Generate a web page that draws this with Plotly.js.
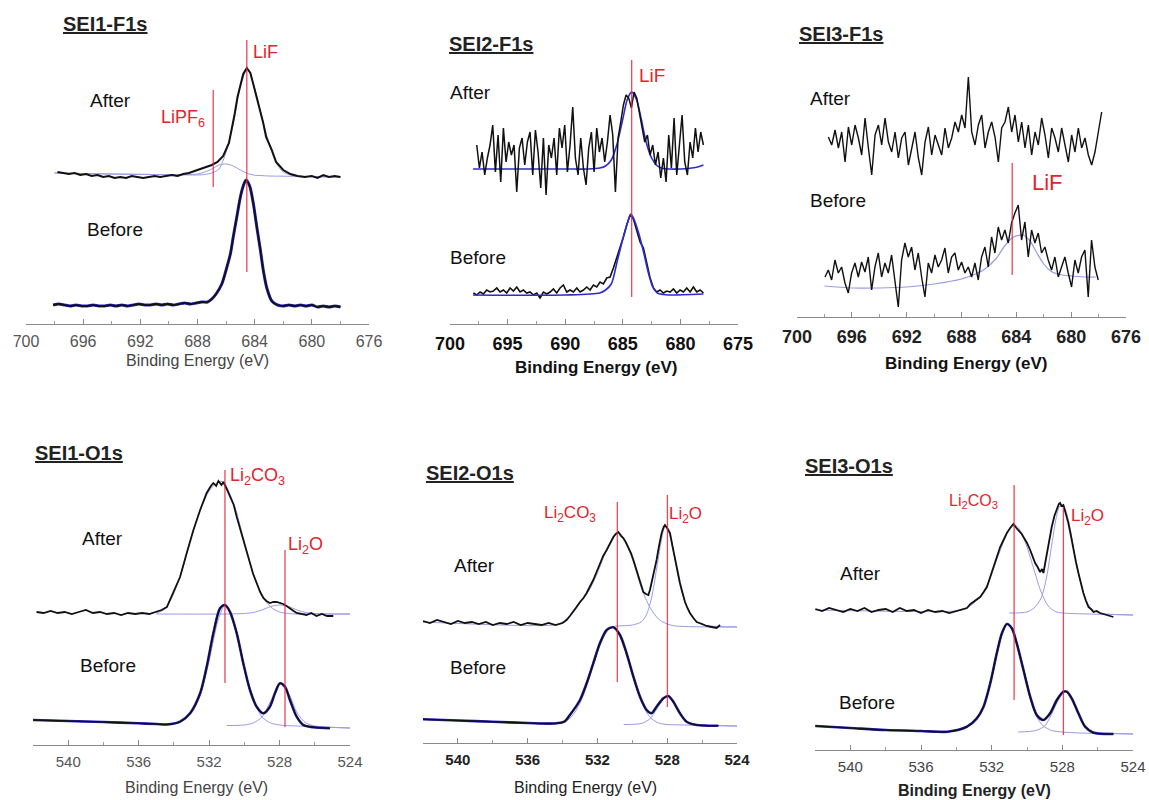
<!DOCTYPE html>
<html><head><meta charset="utf-8">
<script src="https://cdn.plot.ly/plotly-3.0.1.min.js"></script>
<style>html,body{margin:0;padding:0;background:#fff}</style>
</head><body><div id="chart" style="width:1149px;height:800px"></div>
<script>
// ===== DATA (binding energy in eV, intensity in arbitrary units with vertical offsets) =====
// Panel 1: SEI1-F1s
const p1AfterE = [697.8,697.4,697.0,696.6,696.2,695.8,695.4,695.0,694.6,694.2,693.8,693.4,693.0,692.6,692.2,691.8,691.4,691.0,690.6,690.2,689.8,689.4,689.0,688.6,688.2,687.8,687.4,687.0,686.6,686.2,685.8,685.6,685.4,685.2,685.0,684.8,684.55,684.3,684.1,683.85,683.6,683.4,683.2,682.8,682.5,682.0,681.5,681.0,680.5,680.0,679.6,679.2,678.8,678.4,678.0];
const p1AfterI = [152,151,150,151,149,150,148,149,147,148,146,147,146,148,147,146,147,148,147,148,149,148,150,151,153,155,157,159,162,168,181,194,210,227,240,250,256,251,240,227,214,201,187,174,162,154,150,148,147,148,146,149,147,148,147];
const p1BeforeE = [698.1,697.7,697.3,696.9,696.5,696.1,695.7,695.3,694.9,694.5,694.1,693.7,693.3,692.9,692.5,692.1,691.7,691.3,690.9,690.5,690.1,689.7,689.3,688.9,688.5,688.1,687.7,687.3,687.0,686.7,686.3,686.0,685.7,685.5,685.25,685.0,684.8,684.6,684.35,684.1,683.85,683.6,683.4,683.15,682.8,682.4,682.0,681.6,681.2,680.8,680.4,680.0,679.6,679.2,678.8,678.4,678.0];
const p1BeforeI = [19,20,19,18,19,18,18,19,18,18,19,18,19,18,19,20,19,19,20,19,20,19,20,21,20,21,22,22,25,30,40,54,70,87,107,127,138,144,138,121,97,74,54,36,23,19,18,19,18,19,18,19,17,18,17,18,17];
const p1CompE = [698,694,690,688,687.5,687,686.5,686,685.5,685,684.5,684,683.5,683,682.5,682,681.5,681,680,678];
const p1CompLiF = [151,150,149.4,149,149.5,151,155,172,200,238,255,236,207,181,161,152,149,148,147.4,147];
const p1CompLiPF6 = [151,150,149.4,150,152,155,159,160,158,154,150.5,148.8,148.4,148,147.9,147.8,147.7,147.6,147.4,147];

// Panel 2: SEI2-F1s (evenly sampled noisy spectra)
const p2AfterStart = 697.68, p2AfterStep = -0.2315;
const p2AfterI = [179,156,172,149,166,179,199,152,189,142,196,162,182,169,179,132,176,186,159,182,192,149,194,172,136,186,129,179,166,186,149,196,176,199,152,179,217,166,149,186,156,139,176,192,152,196,172,186,162,182,209,189,132,186,202,219,229,226,216,232,226,212,199,182,189,169,179,159,172,146,166,142,189,156,206,149,179,209,162,149,182,166,196,172,192,179];
const p2BeforeStart = 697.97, p2BeforeStep = -0.2894;
const p2BeforeI = [31,29,32,30,34,32,33,36,32,34,31,36,33,37,32,34,31,32,29,31,26,32,30,32,35,31,36,39,32,34,32,36,32,34,37,34,39,37,42,40,46,47,56,66,76,87,99,109,105,94,82,76,62,46,36,32,34,31,33,32,35,31,34,32,36,32,37,32,34,31];
const p2FitAE = [698,690,688,687,686.5,686,685.5,685,684.6,684.23,683.8,683.4,683,682.5,682,681.5,681,680,679,678.5,678];
const p2FitAI = [155,155,155,156,158,164,180,205,225,232,224,205,183,166,158,155.5,155,155,156,157,159];
const p2FitBE = [698,690,687,686.5,686,685.5,685,684.6,684.3,684,683.6,683.2,682.8,682.4,682,681.5,681,678];
const p2FitBI = [29,29,31,34,40,62,85,101,110,104,90,72,52,37,31,29.5,29,30];

// Panel 3: SEI3-F1s
const p3AfterStart = 697.71, p3AfterStep = -0.2431;
const p3AfterI = [180,172,187,169,185,155,190,172,192,179,162,199,169,142,182,192,172,199,175,165,185,159,179,185,152,169,185,159,142,175,190,162,182,172,162,189,169,179,195,185,202,189,240,185,172,192,202,169,185,195,180,155,189,195,210,185,202,175,195,169,192,162,185,172,199,182,159,189,179,165,189,172,155,182,165,189,169,179,162,152,165,185,205];
const p3BeforeStart = 697.96, p3BeforeStep = -0.2431;
const p3BeforeI = [40,47,37,57,44,50,34,24,44,54,40,55,45,60,27,50,64,40,54,44,62,37,10,57,74,60,70,47,64,40,20,54,44,62,50,57,69,44,60,64,47,55,44,50,40,54,37,60,70,50,80,64,90,77,87,74,94,104,112,77,95,60,87,74,84,64,70,57,47,60,40,50,60,44,30,57,44,60,67,20,77,50,37];
const p3FitE = [698,696,694,692,690,688,687,686.4,685.5,684.8,684.2,683.5,683,682.5,682,681.5,681,680,679,678.2];
const p3FitI = [31,29,29,30,33,38,43,47,58,72,80,82,76,64,53,46,43,41,40,40];

// Panel 4: SEI1-O1s
const p4AfterE = [541.8,541.4,541.0,540.6,540.2,539.8,539.4,539.0,538.6,538.2,537.8,537.4,537.0,536.6,536.2,535.8,535.4,535.0,534.7,534.4,534.03,533.65,533.27,532.89,532.51,532.14,531.9,531.76,531.6,531.47,531.3,531.19,531.0,530.81,530.6,530.43,530.25,530.06,529.87,529.68,529.5,529.3,529.1,528.92,528.75,528.55,528.35,528.17,527.98,527.79,527.6,527.41,527.2,527.03,526.8,526.47,526.2,525.9,525.6,525.3,524.95];
const p4AfterI = [133,132,134,132,133,131,133,135,132,133,131,132,130,132,131,132,131,133,135,138,152,168,192,215,235,252,259,262,259,264,260,263,256,248,240,228,217,205,192,182,171,162,153,147,144,142,143,143,142,141,139,137,134,132,131,130,132,129,131,129,129];
const p4BeforeE = [542,540,538,536,535,534.4,533.65,533.08,532.51,532.14,531.76,531.38,531.1,530.81,530.43,530.06,529.68,529.3,528.92,528.55,528.26,527.98,527.69,527.41,527.03,526.65,526.09,525.14];
const p4BeforeI = [25,24,23,21.7,21,20.5,23.3,31.7,51.7,78,111.7,136.7,140,133,111.7,81.7,55,38.3,31.7,38.3,51.7,61.7,58.3,45,28.3,20,17.7,16.7];
const p4A1E = [535,534.5,534,533.5,533,532.5,532,531.5,531.2,531,530.5,530,529.5,529,528.5,528,527.5,527,524];
const p4A1I = [132,136,152,177,209,235,254,263,263,258,236,203,172,150,138,133,131.5,131,131];
const p4A2E = [535,531,530,529.5,529,528.5,528,527.5,527,526.5,526,524];
const p4A2I = [131,131,131.5,132.5,135,138.5,140,138.5,135,132.5,131.5,131];
const p4B1E = [542,535,534,533.5,533,532.5,532,531.5,531.1,530.5,530,529.5,529,528.5,528,527,524];
const p4B1I = [25,21,21.5,24,32,50,84,124,140,115,77,47,28,22,20,19,17];
const p4B2E = [531,530,529.5,529,528.5,528,527.5,527,526.5,526,524];
const p4B2I = [19.5,20,22,28,44,61,52,32,22,19,17];

// Panel 5: SEI2-O1s
const p5AfterE = [542.0,541.6,541.2,540.8,540.4,540.0,539.6,539.2,538.8,538.4,538.0,537.6,537.2,536.8,536.4,536.0,535.6,535.2,534.8,534.4,534.0,533.77,533.58,533.39,533.2,533.0,532.8,532.62,532.43,532.24,532.05,531.86,531.67,531.47,531.28,531.09,530.95,530.8,530.65,530.52,530.38,530.23,530.08,529.94,529.8,529.66,529.52,529.37,529.22,529.08,528.99,528.9,528.75,528.61,528.47,528.32,528.2,528.13,528.0,527.84,527.7,527.55,527.41,527.27,527.12,526.98,526.84,526.7,526.5,526.31,526.0,525.74,525.45,525.17,524.97];
const p5AfterI = [122,120,123,121,119,122,120,121,119,121,118,120,119,121,118,120,119,118,120,118,120,123,127,131,136,141,145,150,156,163,171,180,187,193,200,206,209,211,207,205,201,196,190,183,175,166,158,151,149,148,153,160,171,183,197,210,216,218,215,210,197,183,170,160,150,141,135,130,125,121,119,117,116,115,118];
const p5BeforeE = [542,540,538,536,534.5,533.9,533.58,533.0,532.62,532.24,531.86,531.47,531.09,530.71,530.33,529.94,529.56,529.18,528.9,528.61,528.22,527.94,527.65,527.27,526.89,526.31,525.07];
const p5BeforeI = [23.7,22.5,21.3,20,19.5,21.3,28,43,59.7,79.7,99.7,113,115.7,108,89.7,66.3,46.3,33,29.7,36.3,44.7,47,41.3,29.7,21.3,18,17.3];
const p5A1E = [542,534.5,534,533.5,533,532.5,532,531.5,531,530.8,530.5,530,529.5,529,528.5,528,527.5,524];
const p5A1I = [121,118,121,128,140,152,170,192,207,211,205,184,156,136,124,119,117,116];
const p5A2E = [531,530,529.5,529.2,528.9,528.6,528.3,528.13,527.9,527.6,527.3,527,526.7,526.3,525.8,524];
const p5A2I = [117,118,121,128,145,175,206,216,210,188,160,142,130,121,117.5,116];
const p5B1E = [542,535,534,533.5,533,532.6,532.2,531.8,531.4,531.1,530.7,530.3,529.9,529.5,529,528.5,528,527,524];
const p5B1I = [23.7,20,20.5,26,40,58,80,100,113,115.7,108,89,64,42,26,20,18.5,18,17];
const p5B2E = [530.5,529.5,529,528.6,528.2,527.94,527.6,527.2,526.8,526.3,524];
const p5B2I = [18.5,19.5,24,34,44,47,40,28,21,18.5,17];

// Panel 6: SEI3-O1s
const p6AfterE = [541.98,541.6,541.2,540.8,540.4,540.0,539.6,539.2,538.8,538.4,538.0,537.6,537.2,536.8,536.4,536.0,535.6,535.2,534.8,534.4,534.0,533.7,533.4,533.2,533.03,532.85,532.65,532.45,532.27,532.1,531.9,531.7,531.52,531.3,531.14,530.95,530.77,530.6,530.48,530.3,530.2,530.0,529.82,529.68,529.54,529.4,529.26,529.15,529.07,528.98,528.88,528.75,528.6,528.45,528.31,528.2,528.13,528.05,527.94,527.8,527.66,527.5,527.37,527.23,527.09,526.95,526.81,526.66,526.52,526.38,526.24,526.05,525.87,525.68,525.49,525.3,525.11];
const p6AfterI = [141,139,142,140,138,141,139,142,138,140,141,138,142,139,140,137,140,138,139,137,139,141,142,146,148,150,153,158,163,172,183,194,203,211,217,222,226,222,220,216,213,207,200,193,187,183,178,181,177,186,197,210,223,234,242,246,247,244,245,236,227,213,200,188,177,166,157,149,143,141,138,139,137,136,135,134,133];
const p6BeforeE = [541.98,540,538,536,534.5,533.4,532.84,532.46,532.08,531.71,531.42,531.14,530.86,530.58,530.2,529.82,529.45,529.07,528.69,528.31,527.94,527.75,527.47,527.09,526.71,526.24,525.11];
const p6BeforeI = [24,22,20,19,18.3,23.3,31.7,43.3,66.7,96.7,116.7,126,121.7,106.7,80,53.3,35,30,36.7,50,58.3,58.3,51.7,36.7,23.3,17.3,16];
const p6A1E = [542,534,533.5,533,532.6,532.2,531.8,531.4,531.1,530.77,530.4,530,529.6,529.2,528.8,528.4,528,527.5,524];
const p6A1I = [140,139,141,147,155,167,186,205,218,226,220,203,180,158,144,138.5,137,136.5,135];
const p6A2E = [531,530,529.6,529.2,528.9,528.6,528.3,528.13,527.9,527.6,527.3,527,526.7,526.4,526,525.5,524];
const p6A2I = [137,138,142,152,172,205,236,244,243,225,195,170,152,142,137.5,136,135];
const p6B1E = [542,534,533.4,532.84,532.46,532.08,531.71,531.42,531.14,530.86,530.58,530.2,529.82,529.45,529.07,528.6,528,527,524];
const p6B1I = [24,19,22.5,31,43,66,96,116,126,121.5,106,79,52,33,24,19.5,18,17,16];
const p6B2E = [530.5,529.5,529,528.69,528.31,527.94,527.75,527.47,527.09,526.71,526.3,525.5,524];
const p6B2I = [18,19.5,24,33,47,57,58.3,52,36,23,18.5,17,16];

// Reference binding energies (red markers) per panel
const refE = [[684.55, 686.9], [684.23], [684.3], [531.1, 527.69], [530.86, 527.99], [530.73, 527.94]];
const refLabels = [['LiF','LiPF<sub>6</sub>'], ['LiF'], ['LiF'], ['Li<sub>2</sub>CO<sub>3</sub>','Li<sub>2</sub>O'], ['Li<sub>2</sub>CO<sub>3</sub>','Li<sub>2</sub>O'], ['Li<sub>2</sub>CO<sub>3</sub>','Li<sub>2</sub>O']];
const panelTitles = ['SEI1-F1s','SEI2-F1s','SEI3-F1s','SEI1-O1s','SEI2-O1s','SEI3-O1s'];
const stateLabels = ['After','Before'];
const axisTitle = 'Binding Energy (eV)';
const tickStart = [676, 675, 676, 524, 524, 524];
const tickStep = [4, 5, 4, 4, 4, 4];
const minorStep = [2, 2.5, 2, 2, 2, 2];

// ===== LAYOUT / STYLE (pixel geometry) =====
const W = 1149, H = 800;
const FONT = 'Liberation Sans, Arial, Helvetica, sans-serif';
const geo = [
 {x0:26, x1:369, axisY:324, topY:30, eHi:700, eLo:676,
  tf:{size:16,color:'#555',weight:'normal'}, af:{size:16,color:'#444',weight:'normal'}, at:[197,361],
  title:[105,24], lab:[[110,100],[115,230]], ref:[[284,52],[234,137]], refPos:[[265,52,18],[183,119,18]]},
 {x0:450, x1:738, axisY:324, topY:30, eHi:700, eLo:675,
  tf:{size:18,color:'#111',weight:'bold'}, af:{size:17,color:'#111',weight:'bold'}, at:[596,367],
  title:[491,44], lab:[[470,93],[478,257]], ref:[[264,27]], refPos:[[652,75,19]]},
 {x0:797, x1:1126, axisY:317, topY:30, eHi:700, eLo:676,
  tf:{size:18,color:'#222',weight:'bold'}, af:{size:17,color:'#111',weight:'bold'}, at:[966,363],
  title:[841,34], lab:[[830,98],[838,200]], ref:[[154,42]], refPos:[[1047,182,22]]},
 {x0:33, x1:350, axisY:745, topY:440, eHi:542, eLo:524,
  tf:{size:15,color:'#555',weight:'normal'}, af:{size:16,color:'#444',weight:'normal'}, at:[196,787],
  title:[79,453], lab:[[102,538],[108,665]], ref:[[275,62],[195,18]], refPos:[[257,477,18],[305,545,18]]},
 {x0:423, x1:737, axisY:743, topY:440, eHi:542, eLo:524,
  tf:{size:15,color:'#222',weight:'bold'}, af:{size:16,color:'#222',weight:'normal'}, at:[585,787],
  title:[470,473], lab:[[475,565],[478,667]], ref:[[241,61],[248,36]], refPos:[[570,514,17],[685,515,17]]},
 {x0:815, x1:1133, axisY:750, topY:440, eHi:542, eLo:524,
  tf:{size:15,color:'#444',weight:'normal'}, af:{size:16,color:'#222',weight:'bold'}, at:[974,790],
  title:[849,466], lab:[[860,573],[867,702]], ref:[[265,50],[243,15]], refPos:[[973,502,16],[1087,517,17]]}
];

const DATA_C = '#111', ENV_C = '#2b2bd6', COMP_C = '#9a9ae8', RED = '#e3242b', REDLINE = 'rgba(232,40,60,0.85)';

function ax(i){ return i===0 ? '' : String(i+1); }
const traces = [];
function add(i, E, I, color, width, smooth){
  traces.push({x:E, y:I, xaxis:'x'+ax(i), yaxis:'y'+ax(i), mode:'lines', hoverinfo:'skip',
    line:{color:color, width:width, shape: smooth ? 'spline' : 'linear', smoothing: smooth ? 0.8 : 0}});
}
function addEven(i, x0, dx, I, color, width){
  traces.push({x0:x0, dx:dx, y:I, xaxis:'x'+ax(i), yaxis:'y'+ax(i), mode:'lines', hoverinfo:'skip',
    line:{color:color, width:width}});
}

// Panel 1
add(0, p1CompE, p1CompLiPF6, COMP_C, 1, true);
add(0, p1CompE, p1CompLiF, COMP_C, 1, true);
add(0, p1AfterE, p1AfterI, DATA_C, 2, false);
add(0, p1BeforeE, p1BeforeI, ENV_C, 3, true);
add(0, p1BeforeE, p1BeforeI, DATA_C, 1.8, true);
// Panel 2
add(1, p2FitAE, p2FitAI, ENV_C, 1.6, true);
addEven(1, p2AfterStart, p2AfterStep, p2AfterI, DATA_C, 1.5);
addEven(1, p2BeforeStart, p2BeforeStep, p2BeforeI, DATA_C, 1.6);
add(1, p2FitBE, p2FitBI, ENV_C, 1.6, true);
// Panel 3
add(2, p3FitE, p3FitI, COMP_C, 1.2, true);
addEven(2, p3AfterStart, p3AfterStep, p3AfterI, DATA_C, 1.4);
addEven(2, p3BeforeStart, p3BeforeStep, p3BeforeI, DATA_C, 1.4);
// Panels 4-6
const oPanels = [
  [p4AfterE,p4AfterI,p4BeforeE,p4BeforeI,p4A1E,p4A1I,p4A2E,p4A2I,p4B1E,p4B1I,p4B2E,p4B2I],
  [p5AfterE,p5AfterI,p5BeforeE,p5BeforeI,p5A1E,p5A1I,p5A2E,p5A2I,p5B1E,p5B1I,p5B2E,p5B2I],
  [p6AfterE,p6AfterI,p6BeforeE,p6BeforeI,p6A1E,p6A1I,p6A2E,p6A2I,p6B1E,p6B1I,p6B2E,p6B2I]
];
oPanels.forEach((d, k) => {
  const i = k + 3;
  add(i, d[4], d[5], COMP_C, 1, true);
  add(i, d[6], d[7], COMP_C, 1, true);
  add(i, d[8], d[9], COMP_C, 1, true);
  add(i, d[10], d[11], COMP_C, 1, true);
  add(i, d[2], d[3], ENV_C, 2.6, true);
  add(i, d[0], d[1], DATA_C, 1.8, false);
  add(i, d[2], d[3], DATA_C, 1.6, true);
});

const layout = {width:W, height:H, margin:{l:0,r:0,t:0,b:0}, showlegend:false,
  paper_bgcolor:'#fff', plot_bgcolor:'rgba(0,0,0,0)', font:{family:FONT, color:'#111'},
  shapes:[], annotations:[]};

function px(x){ return x / W; }
function py(y){ return 1 - y / H; }
function note(text, x, y, font){
  layout.annotations.push({text:text, xref:'paper', yref:'paper', x:px(x), y:py(y),
    xanchor:'center', yanchor:'middle', showarrow:false, font:Object.assign({family:FONT}, font)});
}

geo.forEach((g, i) => {
  const s = ax(i);
  layout['xaxis'+s] = {domain:[px(g.x0), px(g.x1)], range:[g.eHi, g.eLo], anchor:'y'+s,
    showline:true, linecolor:'#8a8a8a', linewidth:1, ticks:'inside', ticklen:5, tickcolor:'#8a8a8a',
    tickmode:'linear', tick0:tickStart[i], dtick:tickStep[i], ticklabelstandoff:3,
    minor:{dtick:minorStep[i], ticks:'inside', ticklen:3, tickcolor:'#9a9a9a'},
    showgrid:false, zeroline:false, tickfont:Object.assign({family:FONT}, g.tf), fixedrange:true};
  layout['yaxis'+s] = {domain:[py(g.axisY), py(g.topY)], range:[0, g.axisY - g.topY],
    visible:false, fixedrange:true};
  // axis title
  note(axisTitle, g.at[0], g.at[1], g.af);
  // panel title (underlined)
  note('<u>' + panelTitles[i] + '</u>', g.title[0], g.title[1], {size:20, color:'#222', weight:'bold'});
  // After / Before labels
  stateLabels.forEach((t, j) => note(t, g.lab[j][0], g.lab[j][1], {size:19, color:'#111'}));
  // red reference lines and labels
  refE[i].forEach((e, j) => {
    layout.shapes.push({type:'line', xref:'x'+s, yref:'y'+s, x0:e, x1:e, y0:g.ref[j][1], y1:g.ref[j][0],
      line:{color:REDLINE, width:1.3}});
    note(refLabels[i][j], g.refPos[j][0], g.refPos[j][1], {size:g.refPos[j][2], color:RED});
  });
});

Plotly.newPlot('chart', traces, layout, {staticPlot:true, displayModeBar:false});
</script></body></html>
